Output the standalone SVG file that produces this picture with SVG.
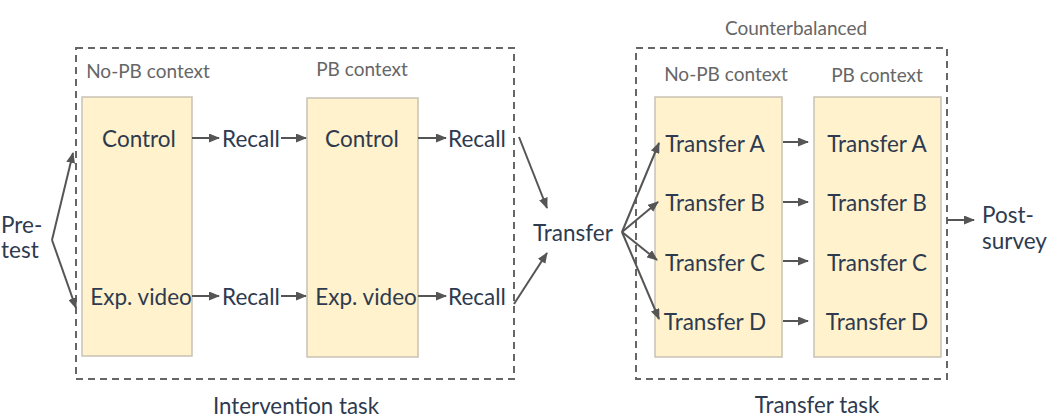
<svg xmlns="http://www.w3.org/2000/svg" width="1048" height="418" viewBox="0 0 1048 418">
<style>
.t{font-family:Lato,"Open Sans",sans-serif;font-size:22.5px;fill:#2e3a4f;text-anchor:middle;dominant-baseline:central}
.s{text-anchor:start}
.g{font-family:Lato,"Open Sans",sans-serif;font-size:19px;fill:#666;text-anchor:middle;dominant-baseline:central}
.f{font-family:Lato,"Open Sans",sans-serif;font-size:22.3px;fill:#2e3a4f;text-anchor:middle;dominant-baseline:central}
.b{fill:#fff2cc;stroke:#c8c2b4;stroke-width:1.5}
.d{fill:none;stroke:#666;stroke-width:2;stroke-dasharray:7,5}
.c line{stroke:#555;stroke-width:2;fill:none;marker-end:url(#ah)}
</style>
<defs>
<marker id="ah" markerWidth="11" markerHeight="9" refX="10" refY="4.5" orient="auto" markerUnits="userSpaceOnUse">
<path d="M0,0 L11,4.5 L0,9 z" fill="#555"/>
</marker>
</defs>
<rect width="1048" height="418" fill="#fff"/>
<g id="intervention-frame">
<rect class="d" x="76" y="48" width="438" height="331"/>
<text class="g" x="148" y="70">No-PB context</text>
<text class="g" x="362" y="68">PB context</text>
<text class="f" x="296" y="405">Intervention task</text>
</g>
<g id="transfer-frame">
<rect class="d" x="636" y="48" width="311" height="331"/>
<text class="g" x="796" y="27">Counterbalanced</text>
<text class="g" x="726" y="73">No-PB context</text>
<text class="g" x="877" y="74">PB context</text>
<text class="f" x="817" y="404">Transfer task</text>
</g>
<g id="pretest"><text class="t s" x="1" y="224">Pre-</text><text class="t s" x="1" y="249">test</text></g>
<g id="nopb-box">
<rect class="b" x="82" y="97" width="110" height="259"/>
<text class="t" x="139" y="138">Control</text>
<text class="t" x="141" y="296">Exp. video</text>
</g>
<g id="recall1a"><text class="t" x="251" y="138">Recall</text></g>
<g id="recall1b"><text class="t" x="251" y="296">Recall</text></g>
<g id="pb-box">
<rect class="b" x="307" y="98" width="111" height="259"/>
<text class="t" x="362" y="138">Control</text>
<text class="t" x="366" y="296">Exp. video</text>
</g>
<g id="recall2a"><text class="t" x="477" y="138">Recall</text></g>
<g id="recall2b"><text class="t" x="477" y="296">Recall</text></g>
<g id="transfer"><text class="t" x="573" y="232">Transfer</text></g>
<g id="transfer-nopb">
<rect class="b" x="655" y="97" width="127" height="260"/>
<text class="t" x="715" y="143">Transfer A</text>
<text class="t" x="715" y="202">Transfer B</text>
<text class="t" x="715" y="262">Transfer C</text>
<text class="t" x="715" y="321">Transfer D</text>
</g>
<g id="transfer-pb">
<rect class="b" x="814" y="97" width="127" height="260"/>
<text class="t" x="877" y="143">Transfer A</text>
<text class="t" x="877" y="202">Transfer B</text>
<text class="t" x="877" y="262">Transfer C</text>
<text class="t" x="877" y="321">Transfer D</text>
</g>
<g id="postsurvey"><text class="t s" x="982" y="214">Post-</text><text class="t s" x="982" y="240">survey</text></g>
<g id="connectors" class="c">
<line x1="52" y1="240" x2="73" y2="153"/>
<line x1="52" y1="240" x2="76" y2="308"/>
<line x1="192" y1="138" x2="219" y2="138"/>
<line x1="281" y1="138" x2="306" y2="138"/>
<line x1="192" y1="296" x2="219" y2="296"/>
<line x1="281" y1="296" x2="306" y2="296"/>
<line x1="418" y1="138" x2="446" y2="138"/>
<line x1="418" y1="296" x2="446" y2="296"/>
<line x1="519" y1="137" x2="547" y2="208"/>
<line x1="514" y1="304" x2="547" y2="253"/>
<line x1="622" y1="232" x2="659" y2="143"/>
<line x1="622" y1="232" x2="658" y2="202"/>
<line x1="622" y1="232" x2="657" y2="260"/>
<line x1="622" y1="232" x2="659" y2="319"/>
<line x1="783" y1="142" x2="808" y2="142"/>
<line x1="783" y1="202" x2="808" y2="202"/>
<line x1="783" y1="261" x2="808" y2="261"/>
<line x1="783" y1="321" x2="808" y2="321"/>
<line x1="947" y1="220" x2="974" y2="220"/>
</g>
</svg>
